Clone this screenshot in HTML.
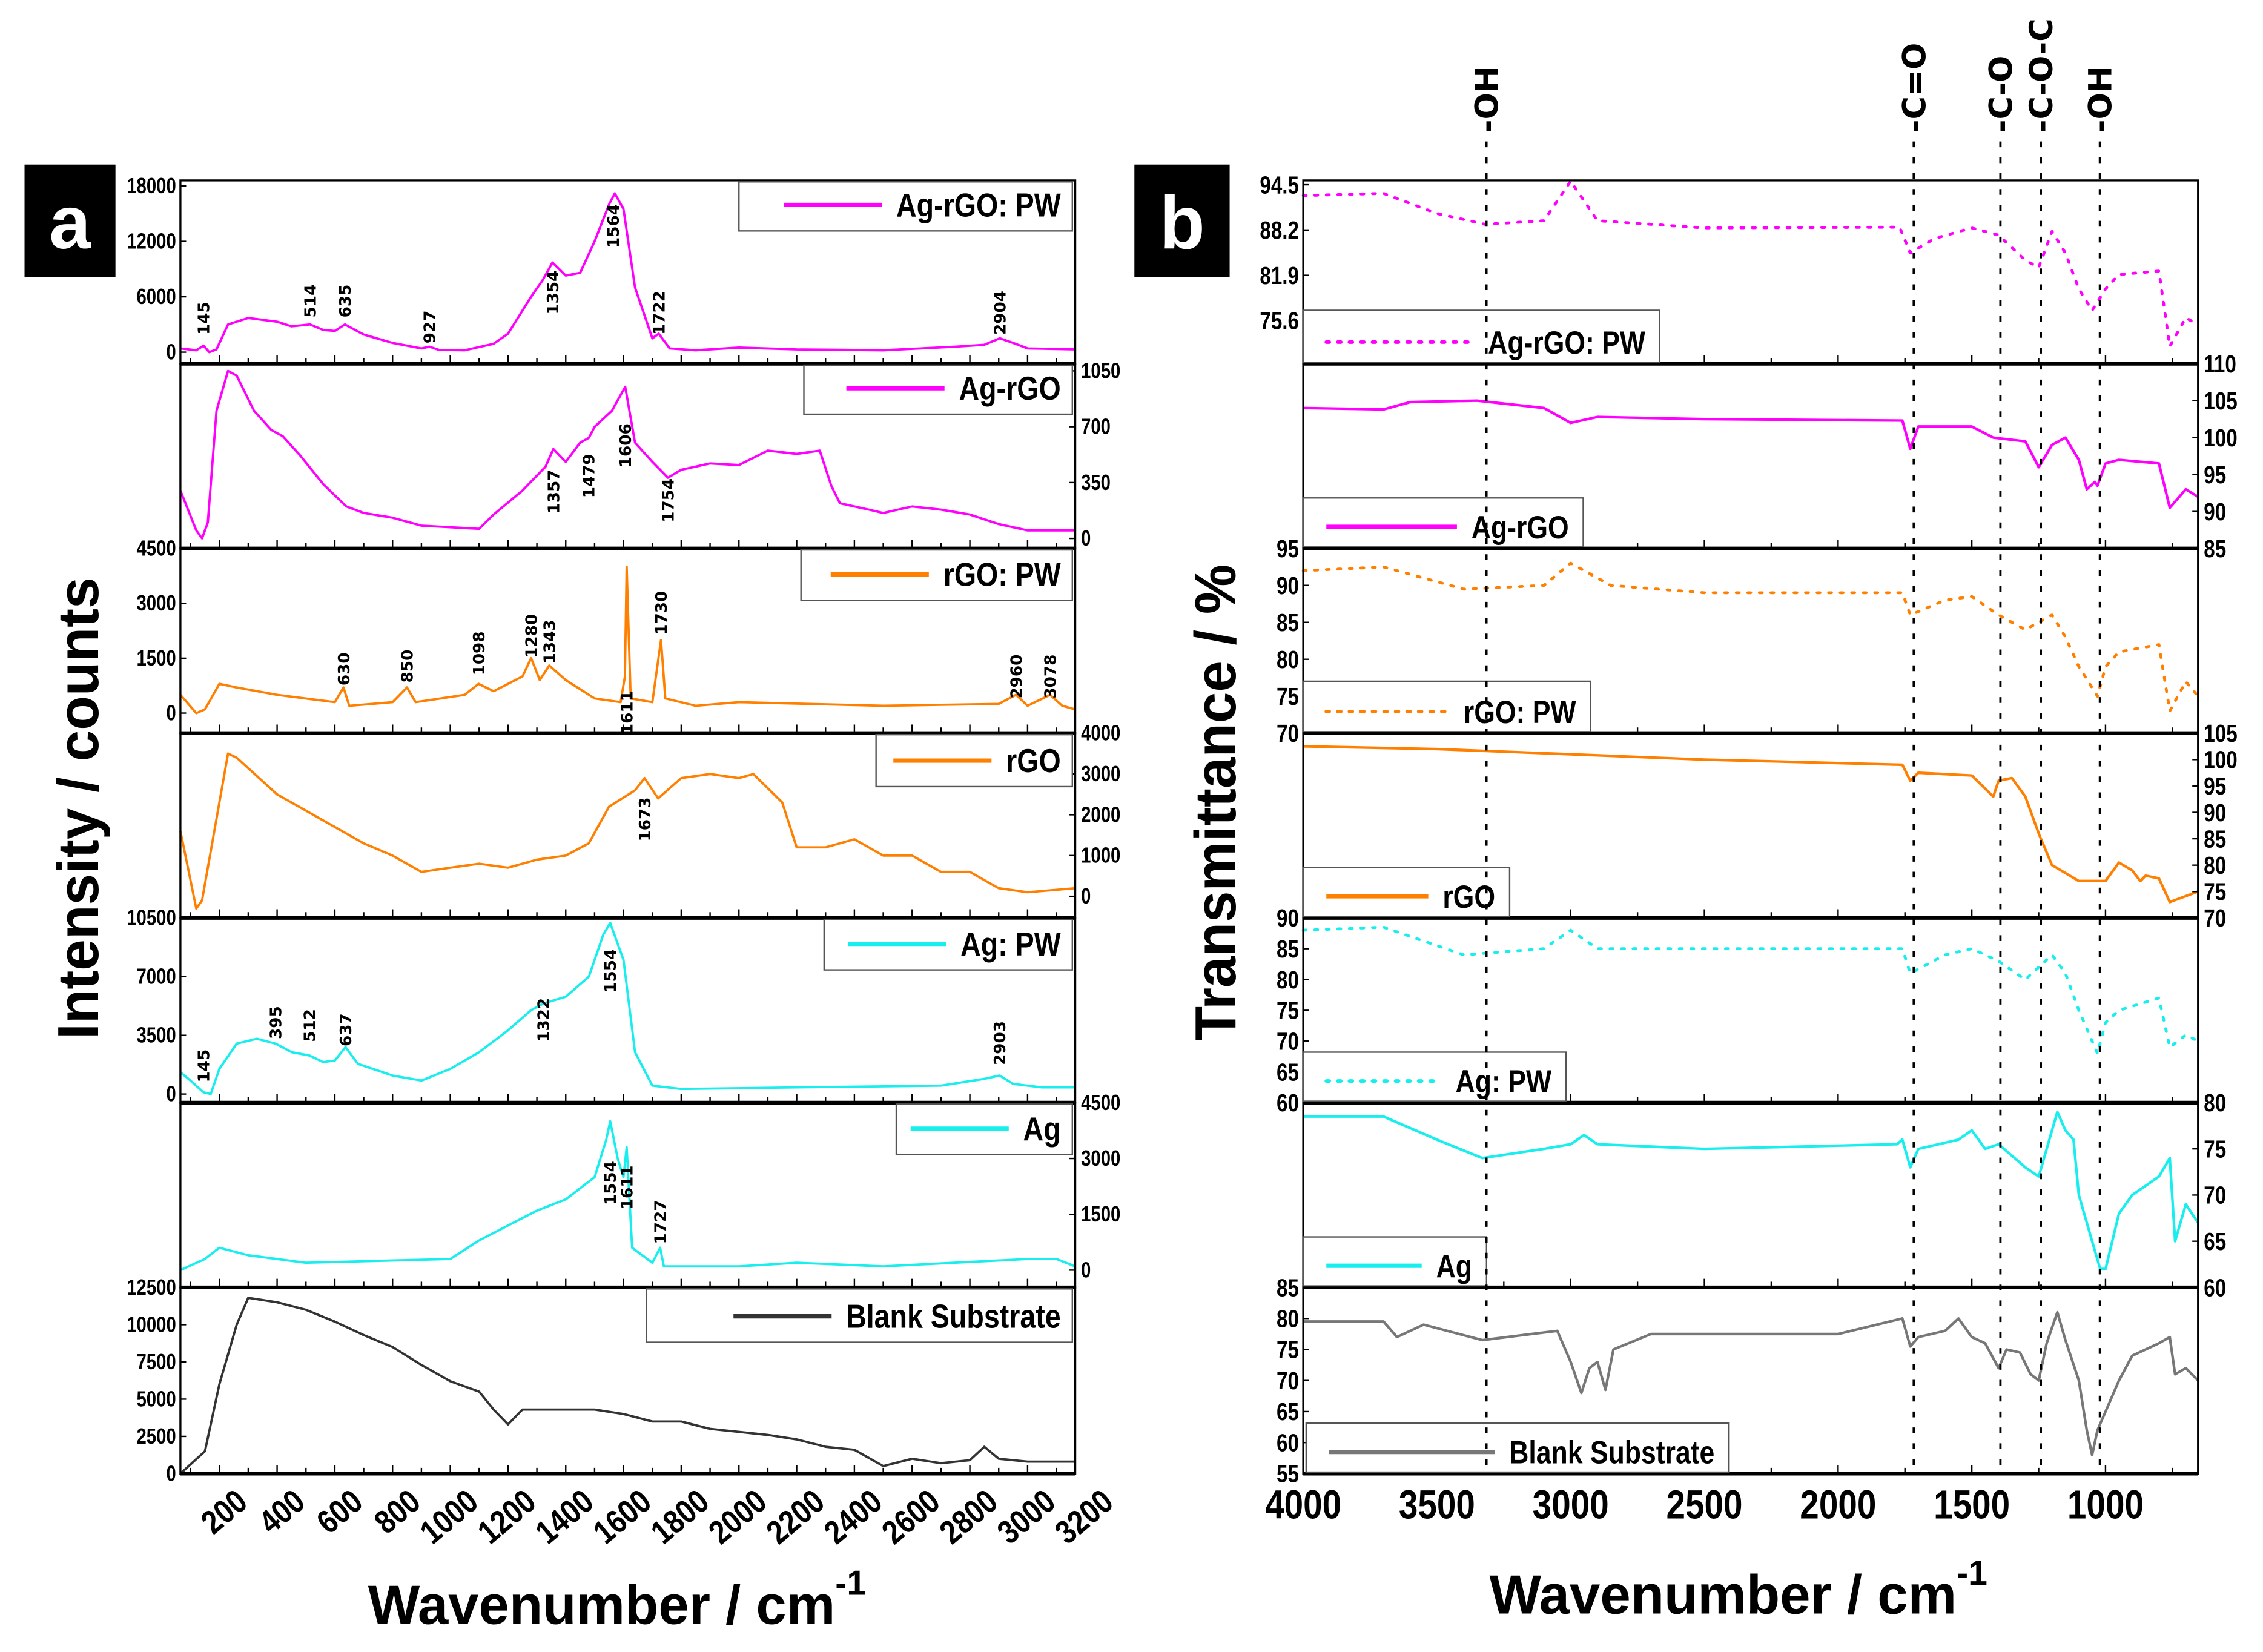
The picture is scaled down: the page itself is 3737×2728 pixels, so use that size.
<!DOCTYPE html>
<html><head><meta charset="utf-8">
<style>
html,body{margin:0;padding:0;background:#fff;}
svg{display:block;}
text{font-family:"Liberation Sans Narrow","Liberation Sans",sans-serif;font-weight:bold;fill:#000;}
.mono{font-family:"DejaVu Sans","Liberation Sans",sans-serif;}
</style></head>
<body>
<svg id="fig" xmlns="http://www.w3.org/2000/svg" width="3737" height="2728" viewBox="0 0 1568 1144.6" preserveAspectRatio="none">
<rect x="0" y="0" width="1568" height="1144.6" fill="#fff"/>
<g><rect x="17" y="114" width="63" height="78" fill="#000"/><text x="48.5" y="172" font-size="52" text-anchor="middle" style="fill:#fff;font-family:'Liberation Sans',sans-serif">a</text></g>
<g><rect x="786" y="114" width="66" height="78" fill="#000"/><text x="819" y="172" font-size="52" text-anchor="middle" style="fill:#fff;font-family:'Liberation Sans',sans-serif">b</text></g>
<text transform="translate(68,560) rotate(-90)" font-size="40" text-anchor="middle" textLength="320" lengthAdjust="spacingAndGlyphs" style="font-family:'Liberation Sans',sans-serif">Intensity / counts</text>
<text transform="translate(856,556) rotate(-90)" font-size="40" text-anchor="middle" textLength="330" lengthAdjust="spacingAndGlyphs" style="font-family:'Liberation Sans',sans-serif">Transmittance / %</text>
<text x="255" y="1125" font-size="38" style="font-family:'Liberation Sans',sans-serif">Wavenumber / cm<tspan dy="-20" font-size="24">-1</tspan></text>
<text x="1032" y="1118" font-size="38" style="font-family:'Liberation Sans',sans-serif">Wavenumber / cm<tspan dy="-20" font-size="24">-1</tspan></text>
<g id="plots"></g>
</svg>
<script>
// ===== Raman (panel a) data =====
const ramanNames = ["Ag-rGO: PW","Ag-rGO","rGO: PW","rGO","Ag: PW","Ag","Blank Substrate"];
const ramanX1 = [65,120,145,165,190,230,300,400,450,514,560,600,635,700,800,900,927,960,1050,1150,1200,1280,1320,1354,1400,1450,1500,1550,1570,1600,1640,1700,1722,1760,1850,2000,2200,2500,2750,2850,2904,2950,3000,3165];
const ramanY1 = [400,200,700,0,300,3000,3700,3300,2800,3000,2400,2300,3000,1900,1000,400,600,250,200,900,2000,6000,7800,9700,8300,8600,12000,16000,17200,15500,7000,1500,2000,400,200,500,300,200,600,800,1500,1000,400,300];
const ramanX2 = [65,120,140,160,190,230,260,320,380,420,480,560,600,640,700,800,900,1000,1100,1150,1250,1330,1357,1400,1450,1480,1500,1560,1606,1640,1700,1754,1800,1900,2000,2100,2200,2280,2320,2350,2450,2500,2600,2700,2800,2900,3000,3165];
const ramanY2 = [300,50,0,100,800,1050,1020,800,680,640,520,340,270,200,160,130,80,70,60,150,300,450,560,480,600,630,700,800,950,600,480,380,430,470,460,550,530,550,330,220,180,160,200,180,150,90,50,50];
const ramanX3 = [65,120,150,200,260,400,600,630,650,800,850,880,1050,1098,1150,1250,1280,1310,1343,1400,1500,1590,1605,1611,1625,1700,1730,1745,1850,2000,2500,2900,2960,3000,3078,3120,3165];
const ramanY3 = [500,0,100,800,700,500,300,700,200,300,700,300,500,800,600,1000,1500,900,1300,900,400,300,1000,4000,400,300,2000,400,200,300,200,250,500,200,500,200,100];
const ramanX4 = [65,120,140,180,230,260,400,600,700,800,900,1000,1100,1200,1300,1400,1480,1550,1640,1673,1720,1800,1900,2000,2050,2150,2200,2300,2400,2500,2600,2700,2800,2900,3000,3165];
const ramanY4 = [1600,-300,-100,1500,3500,3400,2500,1700,1300,1000,600,700,800,700,900,1000,1300,2200,2600,2900,2400,2900,3000,2900,3000,2300,1200,1200,1400,1000,1000,600,600,200,100,200];
const ramanX5 = [65,100,145,170,200,260,330,395,450,512,560,600,637,680,800,900,1000,1100,1200,1280,1322,1400,1480,1530,1554,1600,1640,1700,1800,2200,2700,2850,2903,2950,3050,3165];
const ramanY5 = [1300,800,100,0,1500,3000,3300,3000,2500,2300,1900,2000,2800,1800,1100,800,1500,2500,3800,5000,5400,5800,7000,9500,10200,8000,2500,500,300,400,500,900,1100,600,400,400];
const ramanX6 = [65,150,200,300,500,1000,1100,1200,1300,1400,1500,1540,1554,1580,1600,1611,1630,1700,1727,1740,2000,2200,2500,3000,3100,3165];
const ramanY6 = [0,300,600,400,200,300,800,1200,1600,1900,2500,3500,4000,3000,2500,3300,600,200,600,100,100,200,100,300,300,100];
const ramanX7 = [65,150,200,260,300,400,500,600,700,800,900,1000,1100,1150,1200,1250,1400,1500,1600,1700,1800,1900,2000,2100,2200,2300,2400,2500,2600,2700,2800,2850,2900,3000,3165];
const ramanY7 = [0,1500,6000,10000,11800,11500,11000,10200,9300,8500,7300,6200,5500,4300,3300,4300,4300,4300,4000,3500,3500,3000,2800,2600,2300,1800,1600,500,1000,700,900,1800,1000,800,800];
const ramanTicks1 = [0,6000,12000,18000];
const ramanTicks2 = [0,350,700,1050];
const ramanTicks3 = [0,1500,3000,4500];
const ramanTicks4 = [0,1000,2000,3000,4000];
const ramanTicks5 = [0,3500,7000,10500];
const ramanTicks6 = [0,1500,3000,4500];
const ramanTicks7 = [0,2500,5000,7500,10000,12500];
const ramanXTicks = [200,400,600,800,1000,1200,1400,1600,1800,2000,2200,2400,2600,2800,3000,3200];
const peaks1 = [[145,232],[514,220],[635,220],[927,238],[1354,218],[1564,172],[1722,232],[2904,232]];
const peaks2 = [[1357,356],[1479,345],[1606,324],[1754,362]];
const peaks3 = [[630,475],[850,473],[1098,468],[1280,456],[1343,460],[1611,509],[1730,440],[2960,484],[3078,484]];
const peaks4 = [[1673,583]];
const peaks5 = [[145,750],[395,720],[512,722],[637,725],[1322,722],[1554,688],[2903,738]];
const peaks6 = [[1554,835],[1611,838],[1727,862]];

// ===== FTIR (panel b) data =====
const ftirNames = ["Ag-rGO: PW","Ag-rGO","rGO: PW","rGO","Ag: PW","Ag","Blank Substrate"];
const ftirX1 = [4000,3700,3500,3320,3100,3000,2900,2500,1770,1730,1640,1500,1400,1300,1250,1200,1150,1100,1050,1000,950,800,760,700,654];
const ftirY1 = [93,93.3,90.5,89,89.5,95,89.5,88.5,88.6,85,87,88.5,87.5,84,83,88,85,80,77,80,82,82.5,72,76,75];
const ftirX2 = [4000,3700,3600,3350,3100,3000,2900,2500,1760,1730,1700,1500,1420,1300,1250,1200,1150,1100,1070,1040,1030,1000,950,800,760,700,654];
const ftirY2 = [104,103.8,104.8,105,104,102,102.8,102.5,102.3,98.5,101.5,101.5,100,99.5,96,99,100,97,93,94,93.5,96.5,97,96.5,90.5,93,92];
const ftirX3 = [4000,3700,3400,3100,3000,2850,2500,1760,1730,1600,1500,1400,1300,1200,1150,1100,1030,1000,950,800,760,700,654];
const ftirY3 = [92,92.5,89.5,90,93,90,89,89,86,88,88.5,86,84,86,83,79,75,79,81,82,73,77,75];
const ftirX4 = [4000,3500,3000,2500,1760,1730,1700,1500,1420,1400,1350,1300,1250,1200,1100,1000,950,900,870,850,800,760,654];
const ftirY4 = [102.5,102,101,100,99,96,97.5,97,93,96,96.5,93,86,80,77,77,80.5,79,77,78,77.5,73,75];
const ftirX5 = [4000,3700,3400,3100,3000,2900,2500,1760,1730,1600,1500,1400,1300,1200,1150,1100,1030,1000,950,800,760,700,654];
const ftirY5 = [88,88.5,84,85,88,85,85,85,81,84,85,83,80,84,81,75,68,73,75,77,69,71,70];
const ftirX6 = [4000,3700,3500,3330,3100,3000,2950,2900,2500,1780,1760,1730,1700,1550,1500,1450,1400,1300,1250,1200,1180,1150,1120,1100,1050,1020,1000,950,900,800,760,740,700,654];
const ftirY6 = [78.5,78.5,76,74,75,75.5,76.5,75.5,75,75.5,76,73,75,76,77,75,75.5,73,72,77,79,77,76,70,65,62,62,68,70,72,74,65,69,67];
const ftirX7 = [4000,3700,3650,3550,3330,3050,3000,2960,2930,2900,2870,2840,2700,2000,1760,1730,1700,1600,1550,1500,1450,1400,1370,1320,1280,1250,1220,1180,1150,1100,1070,1050,1030,1000,950,900,800,760,740,700,654];
const ftirY7 = [79.5,79.5,77,79,76.5,78,73,68,72,73,68.5,75,77.5,77.5,80,75.5,77,78,80,77,76,72,75,74.5,71,70,76,81,76.5,70,62,58,62,65,70,74,76,77,71,72,70];
const ftirTicks1 = [75.6,81.9,88.2,94.5];
const ftirTicks2 = [85,90,95,100,105,110];
const ftirTicks3 = [70,75,80,85,90,95];
const ftirTicks4 = [70,75,80,85,90,95,100,105];
const ftirTicks5 = [60,65,70,75,80,85,90];
const ftirTicks6 = [60,65,70,75,80];
const ftirTicks7 = [55,60,65,70,75,80,85];
const ftirXTicks = [4000,3500,3000,2500,2000,1500,1000];
const bandNames = ["-OH","-C=O","-C-O","-C-O-C","-OH"];
const bandPositions = [3315,1717,1393,1242,1021];

// ===== layout =====
const NS = "http://www.w3.org/2000/svg";
const root = document.getElementById('plots');
const tops = [125,252,380,508,636,764,892,1021];
const AX = {l:125, r:745, min:65, max:3165};
const BX = {l:903, r:1523, min:4000, max:654};
const xA = w => AX.l + (w - AX.min) / (AX.max - AX.min) * (AX.r - AX.l);
const xB = w => BX.l + (w - BX.min) / (BX.max - BX.min) * (BX.r - BX.l);
const ramanDom = [[-1250,18600],[-63,1095],[-550,4500],[-530,4000],[-516,10500],[-465,4500],[0,12500]];
const ftirDom = [[69.6,95.1],[85,110],[70,95],[70,105],[60,90],[60,80],[55,85]];
const ramanXs = [ramanX1,ramanX2,ramanX3,ramanX4,ramanX5,ramanX6,ramanX7];
const ramanYs = [ramanY1,ramanY2,ramanY3,ramanY4,ramanY5,ramanY6,ramanY7];
const ramanTicks = [ramanTicks1,ramanTicks2,ramanTicks3,ramanTicks4,ramanTicks5,ramanTicks6,ramanTicks7];
const ramanPeaks = [peaks1,peaks2,peaks3,peaks4,peaks5,peaks6,[]];
const ftirXs = [ftirX1,ftirX2,ftirX3,ftirX4,ftirX5,ftirX6,ftirX7];
const ftirYs = [ftirY1,ftirY2,ftirY3,ftirY4,ftirY5,ftirY6,ftirY7];
const ftirTicks = [ftirTicks1,ftirTicks2,ftirTicks3,ftirTicks4,ftirTicks5,ftirTicks6,ftirTicks7];
const colors = ["#ff00ff","#ff00ff","#ff8000","#ff8000","#19eeee","#19eeee"];
const aLegend = [[512,160],[557,287],[555,416],[607,545],[571,672],[621,800],[448,930]];
const bLegend = [[903,1150,215],[903,1097,345],[903,1102,472],[903,1046,601],[903,1085,729],[903,1030,857],[905,1198,986]];
const ftirDotted = [true,false,true,false,true,false,false];

function mk(tag, attrs, parent){const e=document.createElementNS(NS,tag);for(const k in attrs)e.setAttribute(k,attrs[k]);(parent||root).appendChild(e);return e;}
function yScale(dom,i){const t=tops[i],b=tops[i+1];return v=> b - (v-dom[0])/(dom[1]-dom[0])*(b-t);}
function condense(t,f){const w=t.getComputedTextLength();t.setAttribute('textLength',(w*f).toFixed(1));t.setAttribute('lengthAdjust','spacingAndGlyphs');return w*f;}

// Raman panels
for(let i=0;i<7;i++){
  const g=mk('g',{});
  
  
  const ys=yScale(ramanDom[i],i);
  const col=i<6?colors[i]:"#333";
  const pts=ramanXs[i].map((w,k)=>xA(w).toFixed(1)+','+ys(ramanYs[i][k]).toFixed(1)).join(' ');
  const pl=mk('polyline',{points:pts,fill:'none',stroke:col,'stroke-width':1.6,'stroke-linejoin':'round'},g);
  
  
  mk('rect',{x:AX.l,y:tops[i],width:AX.r-AX.l,height:tops[i+1]-tops[i],fill:'none',stroke:'#000','stroke-width':1.4},g);
  mk('line',{x1:AX.l,x2:AX.r,y1:tops[i+1],y2:tops[i+1],stroke:'#000','stroke-width':2.6},g);
  for(let w=100;w<=3100;w+=100){const x=xA(w);if(x<AX.l||x>AX.r)continue;mk('line',{x1:x,x2:x,y1:tops[i+1],y2:tops[i+1]-(w%200===0?6:4),stroke:'#000','stroke-width':1},g);}
  const left=(i%2===0);
  ramanTicks[i].forEach(v=>{
    const y=ys(v);
    const xa=left?AX.l:AX.r;
    mk('line',{x1:xa,x2:left?xa+4:xa-4,y1:y,y2:y,stroke:'#000','stroke-width':1},g);
    const t=mk('text',{x:left?AX.l-3:AX.r+4,y:y+5,'font-size':15,'text-anchor':left?'end':'start'},g);
    t.textContent=v;
    
    
    condense(t,0.82);
  });
  const [lx,ly]=aLegend[i];
  const lg=mk('g',{},g);
  
  
  mk('rect',{x:lx,y:tops[i]+1,width:AX.r-lx-2,height:ly-tops[i]-1,fill:'#fff',stroke:'#555','stroke-width':1},lg);
  const lt=mk('text',{x:AX.r-10,y:ly-10,'font-size':23,'text-anchor':'end'},lg);
  lt.textContent=ramanNames[i];
  const tw=condense(lt,0.85)+10;
  mk('line',{x1:AX.r-10-tw-68,x2:AX.r-10-tw,y1:ly-18,y2:ly-18,stroke:col,'stroke-width':3},lg);
  ramanPeaks[i].forEach(p=>{
    const t=mk('text',{transform:`translate(${(xA(p[0])+4).toFixed(1)},${p[1]}) rotate(-90)`,'font-size':11,class:'mono'},g);
    t.textContent=p[0];
    
    
  });
}
ramanXTicks.forEach(w=>{
  const t=mk('text',{transform:`translate(${xA(w)+10},${1030}) rotate(-40)`,'font-size':23,'text-anchor':'end'});
  t.setAttribute('dominant-baseline','hanging');
  t.textContent=w;
  
  
  condense(t,0.85);
});

// FTIR panels
for(let i=0;i<7;i++){
  const g=mk('g',{});
  
  
  const ys=yScale(ftirDom[i],i);
  const col=i<6?colors[i]:"#777";
  const pts=ftirXs[i].map((w,k)=>xB(w).toFixed(1)+','+ys(ftirYs[i][k]).toFixed(1)).join(' ');
  const attrs={points:pts,fill:'none',stroke:col,'stroke-width':ftirDotted[i]?2:1.8,'stroke-linejoin':'round'};
  if(ftirDotted[i]){attrs['stroke-dasharray']='2 6';attrs['stroke-linecap']='round';}
  const pl=mk('polyline',attrs,g);
  
  
  mk('rect',{x:BX.l,y:tops[i],width:BX.r-BX.l,height:tops[i+1]-tops[i],fill:'none',stroke:'#000','stroke-width':1.4},g);
  mk('line',{x1:BX.l,x2:BX.r,y1:tops[i+1],y2:tops[i+1],stroke:'#000','stroke-width':2.6},g);
  for(let w=4000;w>=700;w-=250){const x=xB(w);mk('line',{x1:x,x2:x,y1:tops[i+1],y2:tops[i+1]-(w%500===0?6:4),stroke:'#000','stroke-width':1},g);}
  const left=(i%2===0);
  ftirTicks[i].forEach(v=>{
    const y=ys(v);
    const xa=left?BX.l:BX.r;
    mk('line',{x1:xa,x2:left?xa+4:xa-4,y1:y,y2:y,stroke:'#000','stroke-width':1},g);
    const t=mk('text',{x:left?BX.l-3:BX.r+4,y:y+6,'font-size':17,'text-anchor':left?'end':'start'},g);
    t.textContent=v;
    
    
    condense(t,0.82);
  });
  const [x1,x2,ly]=bLegend[i];
  const lg=mk('g',{},g);
  
  
  mk('rect',{x:x1,y:ly,width:x2-x1,height:tops[i+1]-ly-1,fill:'#fff',stroke:'#555','stroke-width':1},lg);
  const lt=mk('text',{x:x2-10,y:tops[i+1]-7,'font-size':22,'text-anchor':'end'},lg);
  lt.textContent=ftirNames[i];
  const tw=condense(lt,0.85)+10;
  const la={x1:x1+16,x2:x2-10-tw,y1:tops[i+1]-15,y2:tops[i+1]-15,stroke:col,'stroke-width':ftirDotted[i]?2.5:3};
  if(ftirDotted[i]){la['stroke-dasharray']='2 6';la['stroke-linecap']='round';}
  mk('line',la,lg);
}
ftirXTicks.forEach(w=>{
  const t=mk('text',{x:xB(w),y:1052,'font-size':28,'text-anchor':'middle'});
  t.textContent=w;
  
  
  condense(t,0.85);
});
bandPositions.forEach((w,k)=>{
  const x=xB(w);
  const l=mk('line',{x1:x,x2:x,y1:98,y2:1021,stroke:'#000','stroke-width':1.6,'stroke-dasharray':'4 7'});
  
  
  const t=mk('text',{transform:`translate(${x+8},92) rotate(-90)`,'font-size':22,class:'mono'});
  t.textContent=bandNames[k];
  
  
});
</script>
</body></html>
